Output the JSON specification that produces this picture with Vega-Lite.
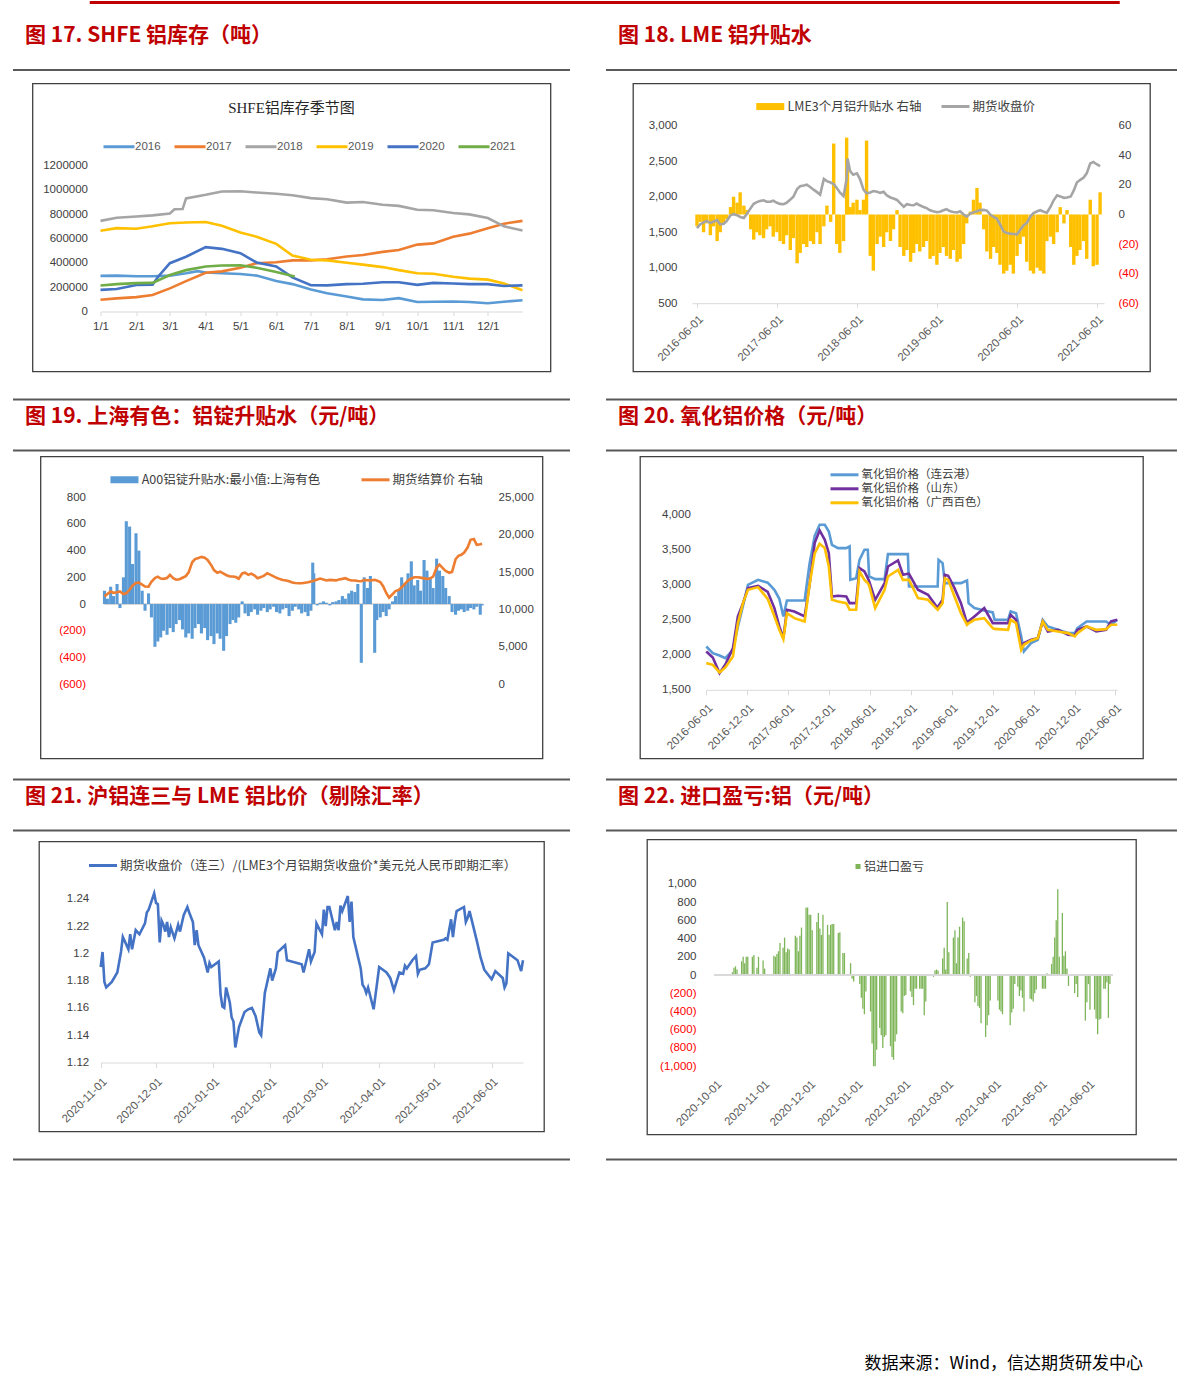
{
"$schema": "https://vega.github.io/schema/vega-lite/v6.json",
"background": "white",
"padding": {"left": 12, "top": 0.5, "right": 0, "bottom": 0},
"config": {
  "view": {"stroke": null},
  "font": "Noto Sans CJK SC",
  "axis": {"grid": false, "labelFont": "Liberation Sans", "labelFontSize": 11.5, "labelColor": "#595959", "domainColor": "#d9d9d9", "tickColor": "#d9d9d9", "domainWidth": 1},
  "legend": {"labelFont": "Noto Sans CJK SC", "labelFontSize": 12.5, "labelColor": "#404040", "padding": 0, "labelLimit": 500}
},
"datasets": {
"shfe": [
{"year":"2016","date":"2016-01-01","stock":293000},{"year":"2016","date":"2016-01-15","stock":295000},{"year":"2016","date":"2016-02-01","stock":290000},{"year":"2016","date":"2016-02-15","stock":290000},{"year":"2016","date":"2016-03-01","stock":295000},{"year":"2016","date":"2016-03-15","stock":315000},{"year":"2016","date":"2016-03-25","stock":332000},{"year":"2016","date":"2016-04-01","stock":320000},{"year":"2016","date":"2016-04-15","stock":315000},{"year":"2016","date":"2016-05-01","stock":308000},{"year":"2016","date":"2016-05-15","stock":295000},{"year":"2016","date":"2016-06-01","stock":250000},{"year":"2016","date":"2016-06-15","stock":225000},{"year":"2016","date":"2016-07-01","stock":180000},{"year":"2016","date":"2016-07-15","stock":150000},{"year":"2016","date":"2016-08-01","stock":123000},{"year":"2016","date":"2016-08-15","stock":100000},{"year":"2016","date":"2016-09-01","stock":95000},{"year":"2016","date":"2016-09-15","stock":110000},{"year":"2016","date":"2016-10-01","stock":78000},{"year":"2016","date":"2016-10-15","stock":80000},{"year":"2016","date":"2016-11-01","stock":82000},{"year":"2016","date":"2016-11-15","stock":78000},{"year":"2016","date":"2016-12-01","stock":68000},{"year":"2016","date":"2016-12-15","stock":80000},{"year":"2016","date":"2016-12-31","stock":93000},
{"year":"2017","date":"2017-01-01","stock":96000},{"year":"2017","date":"2017-01-15","stock":108000},{"year":"2017","date":"2017-02-01","stock":118000},{"year":"2017","date":"2017-02-15","stock":135000},{"year":"2017","date":"2017-03-01","stock":190000},{"year":"2017","date":"2017-03-15","stock":250000},{"year":"2017","date":"2017-04-01","stock":318000},{"year":"2017","date":"2017-04-15","stock":330000},{"year":"2017","date":"2017-05-01","stock":360000},{"year":"2017","date":"2017-05-15","stock":397000},{"year":"2017","date":"2017-06-01","stock":405000},{"year":"2017","date":"2017-06-15","stock":420000},{"year":"2017","date":"2017-07-01","stock":420000},{"year":"2017","date":"2017-07-15","stock":430000},{"year":"2017","date":"2017-08-01","stock":452000},{"year":"2017","date":"2017-08-15","stock":465000},{"year":"2017","date":"2017-09-01","stock":490000},{"year":"2017","date":"2017-09-15","stock":505000},{"year":"2017","date":"2017-10-01","stock":550000},{"year":"2017","date":"2017-10-15","stock":560000},{"year":"2017","date":"2017-11-01","stock":615000},{"year":"2017","date":"2017-11-15","stock":640000},{"year":"2017","date":"2017-12-01","stock":685000},{"year":"2017","date":"2017-12-15","stock":722000},{"year":"2017","date":"2017-12-31","stock":745000},
{"year":"2018","date":"2018-01-01","stock":745000},{"year":"2018","date":"2018-01-15","stock":770000},{"year":"2018","date":"2018-02-01","stock":781000},{"year":"2018","date":"2018-02-15","stock":790000},{"year":"2018","date":"2018-03-01","stock":805000},{"year":"2018","date":"2018-03-05","stock":840000},{"year":"2018","date":"2018-03-12","stock":842000},{"year":"2018","date":"2018-03-15","stock":930000},{"year":"2018","date":"2018-04-01","stock":959000},{"year":"2018","date":"2018-04-15","stock":986000},{"year":"2018","date":"2018-05-01","stock":988000},{"year":"2018","date":"2018-05-15","stock":978000},{"year":"2018","date":"2018-06-01","stock":968000},{"year":"2018","date":"2018-06-15","stock":955000},{"year":"2018","date":"2018-07-01","stock":932000},{"year":"2018","date":"2018-07-15","stock":922000},{"year":"2018","date":"2018-08-01","stock":895000},{"year":"2018","date":"2018-08-15","stock":900000},{"year":"2018","date":"2018-09-01","stock":878000},{"year":"2018","date":"2018-09-15","stock":868000},{"year":"2018","date":"2018-10-01","stock":836000},{"year":"2018","date":"2018-10-15","stock":832000},{"year":"2018","date":"2018-11-01","stock":810000},{"year":"2018","date":"2018-11-15","stock":798000},{"year":"2018","date":"2018-12-01","stock":768000},{"year":"2018","date":"2018-12-15","stock":700000},{"year":"2018","date":"2018-12-31","stock":665000},
{"year":"2019","date":"2019-01-01","stock":663000},{"year":"2019","date":"2019-01-15","stock":685000},{"year":"2019","date":"2019-02-01","stock":680000},{"year":"2019","date":"2019-02-15","stock":700000},{"year":"2019","date":"2019-03-01","stock":726000},{"year":"2019","date":"2019-03-15","stock":732000},{"year":"2019","date":"2019-04-01","stock":735000},{"year":"2019","date":"2019-04-15","stock":705000},{"year":"2019","date":"2019-05-01","stock":650000},{"year":"2019","date":"2019-05-15","stock":615000},{"year":"2019","date":"2019-06-01","stock":556000},{"year":"2019","date":"2019-06-15","stock":460000},{"year":"2019","date":"2019-07-01","stock":425000},{"year":"2019","date":"2019-07-15","stock":420000},{"year":"2019","date":"2019-08-01","stock":400000},{"year":"2019","date":"2019-08-15","stock":385000},{"year":"2019","date":"2019-09-01","stock":365000},{"year":"2019","date":"2019-09-15","stock":340000},{"year":"2019","date":"2019-10-01","stock":315000},{"year":"2019","date":"2019-10-15","stock":310000},{"year":"2019","date":"2019-11-01","stock":285000},{"year":"2019","date":"2019-11-15","stock":270000},{"year":"2019","date":"2019-12-01","stock":262000},{"year":"2019","date":"2019-12-15","stock":230000},{"year":"2019","date":"2019-12-31","stock":175000},
{"year":"2020","date":"2020-01-01","stock":178000},{"year":"2020","date":"2020-01-15","stock":185000},{"year":"2020","date":"2020-02-01","stock":218000},{"year":"2020","date":"2020-02-15","stock":220000},{"year":"2020","date":"2020-02-20","stock":288000},{"year":"2020","date":"2020-03-01","stock":397000},{"year":"2020","date":"2020-03-15","stock":450000},{"year":"2020","date":"2020-04-01","stock":529000},{"year":"2020","date":"2020-04-15","stock":515000},{"year":"2020","date":"2020-05-01","stock":479000},{"year":"2020","date":"2020-05-15","stock":403000},{"year":"2020","date":"2020-06-01","stock":370000},{"year":"2020","date":"2020-06-15","stock":280000},{"year":"2020","date":"2020-07-01","stock":216000},{"year":"2020","date":"2020-07-15","stock":215000},{"year":"2020","date":"2020-08-01","stock":225000},{"year":"2020","date":"2020-08-15","stock":228000},{"year":"2020","date":"2020-09-01","stock":240000},{"year":"2020","date":"2020-09-15","stock":240000},{"year":"2020","date":"2020-10-01","stock":219000},{"year":"2020","date":"2020-10-15","stock":235000},{"year":"2020","date":"2020-11-01","stock":230000},{"year":"2020","date":"2020-11-15","stock":225000},{"year":"2020","date":"2020-12-01","stock":225000},{"year":"2020","date":"2020-12-15","stock":210000},{"year":"2020","date":"2020-12-31","stock":215000},
{"year":"2021","date":"2021-01-01","stock":214000},{"year":"2021","date":"2021-01-15","stock":225000},{"year":"2021","date":"2021-02-01","stock":233000},{"year":"2021","date":"2021-02-15","stock":235000},{"year":"2021","date":"2021-03-01","stock":300000},{"year":"2021","date":"2021-03-15","stock":340000},{"year":"2021","date":"2021-04-01","stock":370000},{"year":"2021","date":"2021-04-15","stock":378000},{"year":"2021","date":"2021-05-01","stock":380000},{"year":"2021","date":"2021-05-15","stock":360000},{"year":"2021","date":"2021-06-01","stock":325000},{"year":"2021","date":"2021-06-17","stock":288000}
],
"lme": [
{"date":"2016-06-01","price":1557,"spread":-8},{"date":"2016-06-15","price":1610,"spread":-5},{"date":"2016-07-01","price":1640,"spread":-12},{"date":"2016-07-15","price":1660,"spread":-6},{"date":"2016-08-01","price":1630,"spread":-14},{"date":"2016-08-15","price":1650,"spread":-8},{"date":"2016-09-01","price":1670,"spread":-18},{"date":"2016-09-15","price":1610,"spread":-12},{"date":"2016-10-01","price":1620,"spread":-6},{"date":"2016-10-15","price":1660,"spread":-3},{"date":"2016-11-01","price":1740,"spread":5},{"date":"2016-11-15","price":1755,"spread":12},{"date":"2016-12-01","price":1740,"spread":8},{"date":"2016-12-15","price":1715,"spread":15},
{"date":"2017-01-01","price":1700,"spread":6},{"date":"2017-01-15","price":1760,"spread":3},{"date":"2017-02-01","price":1840,"spread":-10},{"date":"2017-02-15","price":1900,"spread":-17},{"date":"2017-03-01","price":1925,"spread":-12},{"date":"2017-03-15","price":1940,"spread":-14},{"date":"2017-04-01","price":1950,"spread":-16},{"date":"2017-04-15","price":1930,"spread":-10},{"date":"2017-05-01","price":1930,"spread":-8},{"date":"2017-05-15","price":1945,"spread":-15},{"date":"2017-06-01","price":1915,"spread":-12},{"date":"2017-06-15","price":1900,"spread":-18},{"date":"2017-07-01","price":1895,"spread":-20},{"date":"2017-07-15","price":1915,"spread":-14},{"date":"2017-08-01","price":1960,"spread":-24},{"date":"2017-08-15","price":2000,"spread":-16},{"date":"2017-09-01","price":2110,"spread":-33},{"date":"2017-09-15","price":2150,"spread":-26},{"date":"2017-10-01","price":2160,"spread":-20},{"date":"2017-10-15","price":2170,"spread":-22},{"date":"2017-11-01","price":2135,"spread":-18},{"date":"2017-11-15","price":2100,"spread":-20},{"date":"2017-12-01","price":2065,"spread":-12},{"date":"2017-12-15","price":2030,"spread":-20},
{"date":"2018-01-01","price":2250,"spread":-8},{"date":"2018-01-15","price":2220,"spread":6},{"date":"2018-02-01","price":2200,"spread":-5},{"date":"2018-02-15","price":2180,"spread":48},{"date":"2018-03-01","price":2125,"spread":-20},{"date":"2018-03-15","price":2060,"spread":-26},{"date":"2018-04-01","price":2010,"spread":-18},{"date":"2018-04-15","price":2250,"spread":52},{"date":"2018-04-19","price":2540,"spread":30},{"date":"2018-05-01","price":2360,"spread":5},{"date":"2018-05-15","price":2310,"spread":8},{"date":"2018-06-01","price":2330,"spread":10},{"date":"2018-06-15","price":2250,"spread":3},{"date":"2018-07-01","price":2100,"spread":10},{"date":"2018-07-15","price":2050,"spread":50},{"date":"2018-08-01","price":2060,"spread":-28},{"date":"2018-08-15","price":2080,"spread":-38},{"date":"2018-09-01","price":2070,"spread":-20},{"date":"2018-09-15","price":2055,"spread":-15},{"date":"2018-10-01","price":2070,"spread":-22},{"date":"2018-10-15","price":2020,"spread":-12},{"date":"2018-11-01","price":1990,"spread":-18},{"date":"2018-11-15","price":1975,"spread":-10},{"date":"2018-12-01","price":1955,"spread":3},{"date":"2018-12-15","price":1910,"spread":-22},
{"date":"2019-01-01","price":1860,"spread":-28},{"date":"2019-01-15","price":1895,"spread":-24},{"date":"2019-02-01","price":1885,"spread":-32},{"date":"2019-02-15","price":1880,"spread":-26},{"date":"2019-03-01","price":1905,"spread":-20},{"date":"2019-03-15","price":1880,"spread":-25},{"date":"2019-04-01","price":1855,"spread":-22},{"date":"2019-04-15","price":1840,"spread":-18},{"date":"2019-05-01","price":1810,"spread":-30},{"date":"2019-05-15","price":1795,"spread":-28},{"date":"2019-06-01","price":1783,"spread":-34},{"date":"2019-06-15","price":1790,"spread":-26},{"date":"2019-07-01","price":1810,"spread":-22},{"date":"2019-07-15","price":1825,"spread":-28},{"date":"2019-08-01","price":1795,"spread":-30},{"date":"2019-08-15","price":1785,"spread":-24},{"date":"2019-09-01","price":1780,"spread":-32},{"date":"2019-09-15","price":1795,"spread":-30},{"date":"2019-10-01","price":1750,"spread":-20},{"date":"2019-10-15","price":1720,"spread":-6},{"date":"2019-11-01","price":1765,"spread":2},{"date":"2019-11-15","price":1780,"spread":10},{"date":"2019-12-01","price":1795,"spread":18},{"date":"2019-12-15","price":1812,"spread":8},
{"date":"2020-01-01","price":1815,"spread":-10},{"date":"2020-01-15","price":1805,"spread":-25},{"date":"2020-02-01","price":1745,"spread":-30},{"date":"2020-02-15","price":1715,"spread":-22},{"date":"2020-03-01","price":1690,"spread":-26},{"date":"2020-03-15","price":1610,"spread":-34},{"date":"2020-04-01","price":1510,"spread":-40},{"date":"2020-04-15","price":1490,"spread":-38},{"date":"2020-05-01","price":1480,"spread":-34},{"date":"2020-05-15","price":1475,"spread":-40},{"date":"2020-06-01","price":1470,"spread":-28},{"date":"2020-06-15","price":1530,"spread":-20},{"date":"2020-07-01","price":1600,"spread":-15},{"date":"2020-07-15","price":1630,"spread":-32},{"date":"2020-08-01","price":1720,"spread":-38},{"date":"2020-08-15","price":1770,"spread":-40},{"date":"2020-09-01","price":1795,"spread":-36},{"date":"2020-09-15","price":1810,"spread":-38},{"date":"2020-10-01","price":1790,"spread":-40},{"date":"2020-10-15","price":1775,"spread":-18},{"date":"2020-11-01","price":1860,"spread":-15},{"date":"2020-11-15","price":1950,"spread":-20},{"date":"2020-12-01","price":2020,"spread":-12},{"date":"2020-12-15","price":2005,"spread":5},
{"date":"2021-01-01","price":1985,"spread":-6},{"date":"2021-01-15","price":1990,"spread":3},{"date":"2021-02-01","price":2004,"spread":-22},{"date":"2021-02-15","price":2090,"spread":-34},{"date":"2021-03-01","price":2200,"spread":-28},{"date":"2021-03-15","price":2235,"spread":-24},{"date":"2021-04-01","price":2270,"spread":-18},{"date":"2021-04-15","price":2330,"spread":-30},{"date":"2021-05-01","price":2470,"spread":10},{"date":"2021-05-15","price":2490,"spread":-35},{"date":"2021-06-01","price":2455,"spread":-34},{"date":"2021-06-15","price":2430,"spread":15}
],
"a00": [
{"date":"2016-06-01","premium":100,"settle":11720},{"date":"2016-06-15","premium":40,"settle":12050},{"date":"2016-07-01","premium":130,"settle":12380},{"date":"2016-07-15","premium":60,"settle":12220},{"date":"2016-08-01","premium":150,"settle":12280},{"date":"2016-08-15","premium":-30,"settle":12390},{"date":"2016-09-01","premium":200,"settle":12050},{"date":"2016-09-15","premium":620,"settle":12150},{"date":"2016-10-01","premium":580,"settle":12620},{"date":"2016-10-15","premium":300,"settle":13180},{"date":"2016-11-01","premium":530,"settle":13530},{"date":"2016-11-15","premium":400,"settle":13590},{"date":"2016-12-01","premium":100,"settle":13320},{"date":"2016-12-15","premium":-50,"settle":13050},
{"date":"2017-01-01","premium":80,"settle":13030},{"date":"2017-01-15","premium":-100,"settle":13700},{"date":"2017-02-01","premium":-320,"settle":14180},{"date":"2017-02-15","premium":-280,"settle":14380},{"date":"2017-03-01","premium":-250,"settle":14120},{"date":"2017-03-15","premium":-200,"settle":14080},{"date":"2017-04-01","premium":-230,"settle":14200},{"date":"2017-04-15","premium":-180,"settle":14617},{"date":"2017-05-01","premium":-210,"settle":14170},{"date":"2017-05-15","premium":-150,"settle":13970},{"date":"2017-06-01","premium":-120,"settle":14030},{"date":"2017-06-15","premium":-190,"settle":14230},{"date":"2017-07-01","premium":-250,"settle":14450},{"date":"2017-07-15","premium":-220,"settle":14950},{"date":"2017-08-01","premium":-260,"settle":16300},{"date":"2017-08-15","premium":-180,"settle":16720},{"date":"2017-09-01","premium":-150,"settle":16880},{"date":"2017-09-15","premium":-220,"settle":17020},{"date":"2017-10-01","premium":-180,"settle":16900},{"date":"2017-10-15","premium":-270,"settle":16600},{"date":"2017-11-01","premium":-240,"settle":15950},{"date":"2017-11-15","premium":-300,"settle":15250},{"date":"2017-12-01","premium":-220,"settle":14900},{"date":"2017-12-15","premium":-260,"settle":15040},
{"date":"2018-01-01","premium":-350,"settle":14780},{"date":"2018-01-15","premium":-240,"settle":14570},{"date":"2018-02-01","premium":-150,"settle":14400},{"date":"2018-02-15","premium":-120,"settle":14394},{"date":"2018-03-01","premium":-140,"settle":14330},{"date":"2018-03-15","premium":-100,"settle":14100},{"date":"2018-04-01","premium":20,"settle":14800},{"date":"2018-04-15","premium":-70,"settle":14900},{"date":"2018-05-01","premium":-90,"settle":14620},{"date":"2018-05-15","premium":-60,"settle":14780},{"date":"2018-06-01","premium":-40,"settle":14520},{"date":"2018-06-15","premium":-80,"settle":14171},{"date":"2018-07-01","premium":-50,"settle":14320},{"date":"2018-07-15","premium":-30,"settle":14490},{"date":"2018-08-01","premium":-60,"settle":14830},{"date":"2018-08-15","premium":-40,"settle":14650},{"date":"2018-09-01","premium":-20,"settle":14420},{"date":"2018-09-15","premium":-60,"settle":14220},{"date":"2018-10-01","premium":-70,"settle":14050},{"date":"2018-10-15","premium":-40,"settle":13940},{"date":"2018-11-01","premium":-30,"settle":13870},{"date":"2018-11-15","premium":-90,"settle":13750},{"date":"2018-12-01","premium":-50,"settle":13585},{"date":"2018-12-15","premium":-20,"settle":13530},
{"date":"2019-01-01","premium":-40,"settle":13503},{"date":"2019-01-15","premium":-70,"settle":13503},{"date":"2019-02-01","premium":-60,"settle":13570},{"date":"2019-02-15","premium":-90,"settle":13630},{"date":"2019-03-01","premium":-50,"settle":13720},{"date":"2019-03-10","premium":310,"settle":13800},{"date":"2019-03-15","premium":230,"settle":13840},{"date":"2019-04-01","premium":-10,"settle":14000},{"date":"2019-04-15","premium":10,"settle":14130},{"date":"2019-05-01","premium":20,"settle":14000},{"date":"2019-05-15","premium":10,"settle":13870},{"date":"2019-06-01","premium":-10,"settle":13940},{"date":"2019-06-15","premium":15,"settle":13910},{"date":"2019-07-01","premium":20,"settle":13880},{"date":"2019-07-15","premium":30,"settle":13990},{"date":"2019-08-01","premium":60,"settle":14080},{"date":"2019-08-15","premium":40,"settle":14171},{"date":"2019-09-01","premium":80,"settle":13960},{"date":"2019-09-15","premium":100,"settle":13860},{"date":"2019-10-01","premium":90,"settle":13860},{"date":"2019-10-15","premium":150,"settle":13790},{"date":"2019-11-01","premium":-440,"settle":13760},{"date":"2019-11-15","premium":200,"settle":13910},{"date":"2019-12-01","premium":120,"settle":13900},{"date":"2019-12-15","premium":210,"settle":13870},
{"date":"2020-01-05","premium":-365,"settle":13949},{"date":"2020-01-15","premium":-120,"settle":13860},{"date":"2020-02-01","premium":-100,"settle":13660},{"date":"2020-02-15","premium":-60,"settle":13100},{"date":"2020-03-01","premium":-90,"settle":12200},{"date":"2020-03-15","premium":-40,"settle":11560},{"date":"2020-04-01","premium":20,"settle":12050},{"date":"2020-04-15","premium":60,"settle":12450},{"date":"2020-05-01","premium":110,"settle":12600},{"date":"2020-05-15","premium":200,"settle":12950},{"date":"2020-06-01","premium":160,"settle":13450},{"date":"2020-06-15","premium":230,"settle":13850},{"date":"2020-07-01","premium":320,"settle":14140},{"date":"2020-07-15","premium":140,"settle":14305},{"date":"2020-08-01","premium":180,"settle":14305},{"date":"2020-08-15","premium":100,"settle":14250},{"date":"2020-09-01","premium":330,"settle":14150},{"date":"2020-09-15","premium":250,"settle":14070},{"date":"2020-10-01","premium":200,"settle":14150},{"date":"2020-10-15","premium":120,"settle":14380},{"date":"2020-11-01","premium":340,"settle":15600},{"date":"2020-11-15","premium":250,"settle":16000},{"date":"2020-12-01","premium":210,"settle":15530},{"date":"2020-12-15","premium":120,"settle":15130},
{"date":"2021-01-01","premium":60,"settle":14900},{"date":"2021-01-15","premium":-60,"settle":15020},{"date":"2021-02-01","premium":-80,"settle":16700},{"date":"2021-02-15","premium":-50,"settle":17160},{"date":"2021-03-01","premium":-40,"settle":17300},{"date":"2021-03-15","premium":-60,"settle":17600},{"date":"2021-04-01","premium":-50,"settle":18300},{"date":"2021-04-15","premium":-30,"settle":19300},{"date":"2021-05-01","premium":-40,"settle":19400},{"date":"2021-05-15","premium":-20,"settle":18627},{"date":"2021-06-01","premium":-80,"settle":18700},{"date":"2021-06-10","premium":-10,"settle":18760}
],
"alumina": [
{"date":"2016-06-01","lyg":2119,"sd":2048,"gx":1881},{"date":"2016-06-30","lyg":2024,"sd":1960,"gx":1857},{"date":"2016-07-30","lyg":1990,"sd":1738,"gx":1748},{"date":"2016-08-25","lyg":1952,"sd":1860,"gx":1820},{"date":"2016-09-28","lyg":2070,"sd":2095,"gx":1976},{"date":"2016-10-20","lyg":2400,"sd":2548,"gx":2452},{"date":"2016-11-12","lyg":2700,"sd":2738,"gx":2738},{"date":"2016-12-04","lyg":3000,"sd":2952,"gx":2929},
{"date":"2017-01-18","lyg":3071,"sd":2986,"gx":2967},{"date":"2017-03-02","lyg":3030,"sd":2900,"gx":2800},{"date":"2017-04-01","lyg":2929,"sd":2667,"gx":2550},{"date":"2017-04-23","lyg":2800,"sd":2405,"gx":2357},{"date":"2017-05-11","lyg":2548,"sd":2238,"gx":2224},{"date":"2017-05-27","lyg":2776,"sd":2643,"gx":2595},{"date":"2017-06-29","lyg":2776,"sd":2619,"gx":2524},{"date":"2017-08-14","lyg":2776,"sd":2548,"gx":2476},{"date":"2017-09-05","lyg":3300,"sd":3000,"gx":3000},{"date":"2017-09-28","lyg":3700,"sd":3600,"gx":3450},{"date":"2017-10-20","lyg":3857,"sd":3776,"gx":3586},{"date":"2017-11-12","lyg":3857,"sd":3643,"gx":3524},{"date":"2017-11-30","lyg":3762,"sd":3452,"gx":3262},{"date":"2017-12-14","lyg":3571,"sd":2833,"gx":2786},
{"date":"2018-01-10","lyg":3524,"sd":2843,"gx":2762},{"date":"2018-02-16","lyg":3524,"sd":2833,"gx":2738},{"date":"2018-03-03","lyg":3548,"sd":2738,"gx":2643},{"date":"2018-03-06","lyg":3071,"sd":2738,"gx":2643},{"date":"2018-04-01","lyg":3095,"sd":2738,"gx":2643},{"date":"2018-04-16","lyg":3357,"sd":3238,"gx":3190},{"date":"2018-05-08","lyg":3500,"sd":3190,"gx":3071},{"date":"2018-05-23","lyg":3500,"sd":3095,"gx":3024},{"date":"2018-05-29","lyg":3119,"sd":3050,"gx":2990},{"date":"2018-06-25","lyg":3081,"sd":2786,"gx":2667},{"date":"2018-08-06","lyg":3081,"sd":3024,"gx":2929},{"date":"2018-08-21","lyg":3438,"sd":3262,"gx":3119},{"date":"2018-10-05","lyg":3438,"sd":3348,"gx":3214},{"date":"2018-10-27","lyg":3438,"sd":3143,"gx":3071},{"date":"2018-11-18","lyg":3438,"sd":3157,"gx":3071},{"date":"2018-11-23","lyg":2976,"sd":3157,"gx":3071},
{"date":"2019-01-02","lyg":2976,"sd":2929,"gx":2810},{"date":"2019-02-16","lyg":2976,"sd":2857,"gx":2786},{"date":"2019-03-31","lyg":2976,"sd":2667,"gx":2643},{"date":"2019-04-04","lyg":3357,"sd":2700,"gx":2660},{"date":"2019-04-22","lyg":3310,"sd":2786,"gx":2738},{"date":"2019-05-02","lyg":3024,"sd":3143,"gx":3095},{"date":"2019-05-17","lyg":3024,"sd":3129,"gx":3071},{"date":"2019-06-14","lyg":3024,"sd":2952,"gx":2833},{"date":"2019-07-13","lyg":3024,"sd":2738,"gx":2595},{"date":"2019-08-09","lyg":3062,"sd":2452,"gx":2429},{"date":"2019-08-16","lyg":2738,"sd":2480,"gx":2450},{"date":"2019-09-11","lyg":2667,"sd":2548,"gx":2500},{"date":"2019-10-25","lyg":2633,"sd":2667,"gx":2524},{"date":"2019-12-02","lyg":2605,"sd":2452,"gx":2381},{"date":"2019-12-10","lyg":2500,"sd":2452,"gx":2370},
{"date":"2020-02-08","lyg":2500,"sd":2452,"gx":2357},{"date":"2020-02-20","lyg":2619,"sd":2571,"gx":2500},{"date":"2020-03-15","lyg":2595,"sd":2500,"gx":2452},{"date":"2020-04-07","lyg":2262,"sd":2119,"gx":2071},{"date":"2020-04-19","lyg":2048,"sd":2167,"gx":2143},{"date":"2020-05-21","lyg":2167,"sd":2214,"gx":2205},{"date":"2020-06-20","lyg":2214,"sd":2238,"gx":2238},{"date":"2020-07-12","lyg":2500,"sd":2476,"gx":2476},{"date":"2020-08-04","lyg":2405,"sd":2333,"gx":2357},{"date":"2020-09-18","lyg":2357,"sd":2357,"gx":2333},{"date":"2020-11-02","lyg":2310,"sd":2286,"gx":2310},{"date":"2020-12-02","lyg":2310,"sd":2276,"gx":2262},{"date":"2020-12-14","lyg":2381,"sd":2357,"gx":2310},
{"date":"2021-01-24","lyg":2476,"sd":2405,"gx":2405},{"date":"2021-03-08","lyg":2476,"sd":2333,"gx":2357},{"date":"2021-04-21","lyg":2476,"sd":2357,"gx":2367},{"date":"2021-05-13","lyg":2429,"sd":2476,"gx":2429},{"date":"2021-06-10","lyg":2500,"sd":2500,"gx":2429}
],
"ratio": [
{"date":"2020-11-01","ratio":1.190},{"date":"2020-11-02","ratio":1.201},{"date":"2020-11-03","ratio":1.179},{"date":"2020-11-04","ratio":1.175},{"date":"2020-11-07","ratio":1.179},{"date":"2020-11-10","ratio":1.186},{"date":"2020-11-12","ratio":1.201},{"date":"2020-11-13","ratio":1.212},{"date":"2020-11-14","ratio":1.209},{"date":"2020-11-16","ratio":1.203},{"date":"2020-11-17","ratio":1.214},{"date":"2020-11-18","ratio":1.203},{"date":"2020-11-20","ratio":1.217},{"date":"2020-11-22","ratio":1.214},{"date":"2020-11-25","ratio":1.222},{"date":"2020-11-26","ratio":1.230},{"date":"2020-11-27","ratio":1.232},{"date":"2020-11-30","ratio":1.244},
{"date":"2020-12-01","ratio":1.237},{"date":"2020-12-02","ratio":1.236},{"date":"2020-12-03","ratio":1.208},{"date":"2020-12-04","ratio":1.224},{"date":"2020-12-05","ratio":1.221},{"date":"2020-12-06","ratio":1.216},{"date":"2020-12-07","ratio":1.223},{"date":"2020-12-08","ratio":1.212},{"date":"2020-12-09","ratio":1.219},{"date":"2020-12-11","ratio":1.211},{"date":"2020-12-13","ratio":1.221},{"date":"2020-12-14","ratio":1.216},{"date":"2020-12-16","ratio":1.228},{"date":"2020-12-18","ratio":1.234},{"date":"2020-12-19","ratio":1.230},{"date":"2020-12-21","ratio":1.223},{"date":"2020-12-22","ratio":1.206},{"date":"2020-12-23","ratio":1.217},{"date":"2020-12-24","ratio":1.206},{"date":"2020-12-27","ratio":1.197},{"date":"2020-12-29","ratio":1.186},{"date":"2020-12-30","ratio":1.193},{"date":"2020-12-31","ratio":1.190},
{"date":"2021-01-04","ratio":1.194},{"date":"2021-01-05","ratio":1.170},{"date":"2021-01-06","ratio":1.161},{"date":"2021-01-07","ratio":1.160},{"date":"2021-01-08","ratio":1.175},{"date":"2021-01-10","ratio":1.164},{"date":"2021-01-11","ratio":1.153},{"date":"2021-01-12","ratio":1.150},{"date":"2021-01-13","ratio":1.131},{"date":"2021-01-15","ratio":1.146},{"date":"2021-01-18","ratio":1.157},{"date":"2021-01-20","ratio":1.159},{"date":"2021-01-22","ratio":1.160},{"date":"2021-01-24","ratio":1.154},{"date":"2021-01-26","ratio":1.142},{"date":"2021-01-27","ratio":1.140},{"date":"2021-01-29","ratio":1.171},
{"date":"2021-02-01","ratio":1.189},{"date":"2021-02-02","ratio":1.180},{"date":"2021-02-04","ratio":1.189},{"date":"2021-02-05","ratio":1.201},{"date":"2021-02-09","ratio":1.206},{"date":"2021-02-10","ratio":1.195},{"date":"2021-02-18","ratio":1.192},{"date":"2021-02-19","ratio":1.186},{"date":"2021-02-22","ratio":1.203},{"date":"2021-02-23","ratio":1.194},{"date":"2021-02-25","ratio":1.201},{"date":"2021-02-26","ratio":1.222},
{"date":"2021-03-01","ratio":1.214},{"date":"2021-03-02","ratio":1.232},{"date":"2021-03-03","ratio":1.220},{"date":"2021-03-04","ratio":1.234},{"date":"2021-03-05","ratio":1.234},{"date":"2021-03-08","ratio":1.217},{"date":"2021-03-09","ratio":1.223},{"date":"2021-03-10","ratio":1.217},{"date":"2021-03-11","ratio":1.235},{"date":"2021-03-12","ratio":1.231},{"date":"2021-03-15","ratio":1.242},{"date":"2021-03-16","ratio":1.223},{"date":"2021-03-17","ratio":1.238},{"date":"2021-03-18","ratio":1.212},{"date":"2021-03-22","ratio":1.189},{"date":"2021-03-23","ratio":1.177},{"date":"2021-03-24","ratio":1.175},{"date":"2021-03-25","ratio":1.171},{"date":"2021-03-26","ratio":1.175},{"date":"2021-03-29","ratio":1.159},
{"date":"2021-04-01","ratio":1.190},{"date":"2021-04-05","ratio":1.186},{"date":"2021-04-07","ratio":1.182},{"date":"2021-04-09","ratio":1.173},{"date":"2021-04-12","ratio":1.186},{"date":"2021-04-14","ratio":1.185},{"date":"2021-04-15","ratio":1.191},{"date":"2021-04-16","ratio":1.189},{"date":"2021-04-19","ratio":1.195},{"date":"2021-04-21","ratio":1.198},{"date":"2021-04-22","ratio":1.185},{"date":"2021-04-23","ratio":1.188},{"date":"2021-04-26","ratio":1.189},{"date":"2021-04-28","ratio":1.192},{"date":"2021-04-30","ratio":1.208},
{"date":"2021-05-06","ratio":1.210},{"date":"2021-05-07","ratio":1.211},{"date":"2021-05-08","ratio":1.210},{"date":"2021-05-10","ratio":1.225},{"date":"2021-05-11","ratio":1.212},{"date":"2021-05-12","ratio":1.223},{"date":"2021-05-13","ratio":1.231},{"date":"2021-05-17","ratio":1.234},{"date":"2021-05-18","ratio":1.223},{"date":"2021-05-19","ratio":1.226},{"date":"2021-05-20","ratio":1.231},{"date":"2021-05-24","ratio":1.209},{"date":"2021-05-26","ratio":1.197},{"date":"2021-05-28","ratio":1.188},
{"date":"2021-06-01","ratio":1.181},{"date":"2021-06-03","ratio":1.187},{"date":"2021-06-07","ratio":1.182},{"date":"2021-06-08","ratio":1.175},{"date":"2021-06-09","ratio":1.178},{"date":"2021-06-10","ratio":1.200},{"date":"2021-06-15","ratio":1.195},{"date":"2021-06-17","ratio":1.187},{"date":"2021-06-18","ratio":1.195}
],
"imp": [
{"date":"2020-10-12","pnl":30},{"date":"2020-10-13","pnl":80},{"date":"2020-10-14","pnl":95},{"date":"2020-10-15","pnl":60},{"date":"2020-10-18","pnl":150},{"date":"2020-10-19","pnl":200},{"date":"2020-10-20","pnl":130},{"date":"2020-10-21","pnl":200},{"date":"2020-10-22","pnl":200},{"date":"2020-10-25","pnl":200},{"date":"2020-10-26","pnl":220},{"date":"2020-10-28","pnl":80},{"date":"2020-10-29","pnl":200},
{"date":"2020-11-01","pnl":160},{"date":"2020-11-02","pnl":70},{"date":"2020-11-03","pnl":10},{"date":"2020-11-08","pnl":210},{"date":"2020-11-09","pnl":200},{"date":"2020-11-10","pnl":230},{"date":"2020-11-11","pnl":260},{"date":"2020-11-12","pnl":350},{"date":"2020-11-14","pnl":300},{"date":"2020-11-15","pnl":410},{"date":"2020-11-16","pnl":250},{"date":"2020-11-17","pnl":290},{"date":"2020-11-18","pnl":280},{"date":"2020-11-22","pnl":430},{"date":"2020-11-23","pnl":410},{"date":"2020-11-24","pnl":260},{"date":"2020-11-25","pnl":430},{"date":"2020-11-26","pnl":520},{"date":"2020-11-29","pnl":740},{"date":"2020-11-30","pnl":740},
{"date":"2020-12-01","pnl":660},{"date":"2020-12-02","pnl":660},{"date":"2020-12-03","pnl":490},{"date":"2020-12-06","pnl":580},{"date":"2020-12-07","pnl":680},{"date":"2020-12-08","pnl":510},{"date":"2020-12-09","pnl":440},{"date":"2020-12-10","pnl":660},{"date":"2020-12-13","pnl":550},{"date":"2020-12-14","pnl":440},{"date":"2020-12-15","pnl":550},{"date":"2020-12-16","pnl":560},{"date":"2020-12-17","pnl":560},{"date":"2020-12-20","pnl":460},{"date":"2020-12-21","pnl":470},{"date":"2020-12-23","pnl":240},{"date":"2020-12-24","pnl":240},{"date":"2020-12-28","pnl":130},{"date":"2020-12-29","pnl":-40},{"date":"2020-12-30","pnl":-70},
{"date":"2021-01-03","pnl":-100},{"date":"2021-01-04","pnl":-250},{"date":"2021-01-05","pnl":-370},{"date":"2021-01-06","pnl":-430},{"date":"2021-01-07","pnl":-180},{"date":"2021-01-10","pnl":-400},{"date":"2021-01-11","pnl":-750},{"date":"2021-01-12","pnl":-1000},{"date":"2021-01-13","pnl":-1000},{"date":"2021-01-14","pnl":-820},{"date":"2021-01-16","pnl":-580},{"date":"2021-01-17","pnl":-660},{"date":"2021-01-18","pnl":-800},{"date":"2021-01-19","pnl":-680},{"date":"2021-01-20","pnl":-660},{"date":"2021-01-23","pnl":-780},{"date":"2021-01-24","pnl":-900},{"date":"2021-01-25","pnl":-930},{"date":"2021-01-26","pnl":-730},{"date":"2021-01-27","pnl":-650},{"date":"2021-01-30","pnl":-400},{"date":"2021-01-31","pnl":-420},
{"date":"2021-02-01","pnl":-230},{"date":"2021-02-02","pnl":-220},{"date":"2021-02-05","pnl":-180},{"date":"2021-02-06","pnl":-240},{"date":"2021-02-07","pnl":-330},{"date":"2021-02-08","pnl":-150},{"date":"2021-02-09","pnl":-150},{"date":"2021-02-11","pnl":-150},{"date":"2021-02-12","pnl":-150},{"date":"2021-02-13","pnl":-150},{"date":"2021-02-14","pnl":-440},{"date":"2021-02-15","pnl":-290},{"date":"2021-02-19","pnl":-10},{"date":"2021-02-20","pnl":-20},{"date":"2021-02-21","pnl":50},{"date":"2021-02-22","pnl":60},{"date":"2021-02-23","pnl":50},{"date":"2021-02-26","pnl":180},{"date":"2021-02-27","pnl":300},{"date":"2021-02-28","pnl":60},
{"date":"2021-03-01","pnl":800},{"date":"2021-03-02","pnl":250},{"date":"2021-03-05","pnl":410},{"date":"2021-03-06","pnl":490},{"date":"2021-03-07","pnl":130},{"date":"2021-03-08","pnl":410},{"date":"2021-03-09","pnl":530},{"date":"2021-03-11","pnl":630},{"date":"2021-03-12","pnl":590},{"date":"2021-03-14","pnl":180},{"date":"2021-03-15","pnl":240},{"date":"2021-03-16","pnl":-20},{"date":"2021-03-19","pnl":-300},{"date":"2021-03-20","pnl":-230},{"date":"2021-03-21","pnl":-340},{"date":"2021-03-22","pnl":-360},{"date":"2021-03-23","pnl":-530},{"date":"2021-03-26","pnl":-680},{"date":"2021-03-27","pnl":-550},{"date":"2021-03-28","pnl":-440},{"date":"2021-03-29","pnl":-280},
{"date":"2021-04-03","pnl":-280},{"date":"2021-04-04","pnl":-380},{"date":"2021-04-05","pnl":-400},{"date":"2021-04-06","pnl":-430},{"date":"2021-04-11","pnl":-550},{"date":"2021-04-12","pnl":-410},{"date":"2021-04-13","pnl":-370},{"date":"2021-04-14","pnl":-100},{"date":"2021-04-16","pnl":-130},{"date":"2021-04-17","pnl":-230},{"date":"2021-04-18","pnl":-170},{"date":"2021-04-19","pnl":-250},{"date":"2021-04-20","pnl":-400},{"date":"2021-04-24","pnl":-260},{"date":"2021-04-25","pnl":-270},{"date":"2021-04-26","pnl":-290},{"date":"2021-04-27","pnl":-200},{"date":"2021-04-28","pnl":-160},
{"date":"2021-05-02","pnl":-150},{"date":"2021-05-03","pnl":-150},{"date":"2021-05-04","pnl":-150},{"date":"2021-05-05","pnl":20},{"date":"2021-05-08","pnl":120},{"date":"2021-05-09","pnl":200},{"date":"2021-05-10","pnl":410},{"date":"2021-05-11","pnl":600},{"date":"2021-05-12","pnl":940},{"date":"2021-05-13","pnl":200},{"date":"2021-05-15","pnl":680},{"date":"2021-05-16","pnl":210},{"date":"2021-05-17","pnl":260},{"date":"2021-05-18","pnl":70},{"date":"2021-05-19","pnl":-120},{"date":"2021-05-22","pnl":10},{"date":"2021-05-23","pnl":-200},{"date":"2021-05-24","pnl":-100},{"date":"2021-05-25","pnl":-240},{"date":"2021-05-30","pnl":-500},{"date":"2021-05-31","pnl":-300},
{"date":"2021-06-01","pnl":-100},{"date":"2021-06-02","pnl":-380},{"date":"2021-06-05","pnl":-380},{"date":"2021-06-06","pnl":-480},{"date":"2021-06-07","pnl":-650},{"date":"2021-06-08","pnl":-490},{"date":"2021-06-09","pnl":-480},{"date":"2021-06-11","pnl":-150},{"date":"2021-06-12","pnl":-150},{"date":"2021-06-13","pnl":-80},{"date":"2021-06-14","pnl":-470},{"date":"2021-06-15","pnl":-100}
]
},
"spacing": 0,
"center": true,
"resolve": {"scale": {"color": "independent", "fill": "independent", "stroke": "independent"}, "legend": {"color": "independent", "fill": "independent", "stroke": "independent"}},
"vconcat": [
{"width": 1050, "height": 1, "view": {"stroke": "#c00000", "strokeWidth": 3, "strokeDash": [0, 20, 1030, 10000]}, "data": {"values": []}, "mark": "text"},
{"hconcat": [
{"vconcat": [
  {"width": 557, "height": 63.5, "view": {"stroke": "#595959", "strokeWidth": 2, "strokeDash": [0, 620.5, 557, 63.5]},
   "data": {"values": [{"fig": "图 17. SHFE 铝库存（吨）"}]},
   "mark": {"type": "text", "align": "left", "baseline": "middle", "dx": 12, "dy": -34, "fontSize": 21, "fontWeight": "bold", "color": "#c00000"},
   "encoding": {"text": {"field": "fig", "type": "nominal"}, "x": {"datum": 0, "type": "quantitative", "scale": {"domain": [0, 1]}, "axis": null}, "y": {"datum": 0, "type": "quantitative", "scale": {"domain": [0, 1]}, "axis": null}}},
  {"width": 10, "height": 13, "data": {"values": []}, "mark": "text"},
  {"width": 518, "height": 288, "view": {"stroke": "#404040", "strokeWidth": 1.3},
   "title": {"text": "SHFE铝库存季节图", "font": "Liberation Serif, Noto Sans CJK SC", "fontSize": 15, "fontWeight": "normal", "color": "#262626", "anchor": "middle", "frame": "group", "offset": -32},
   "data": {"name": "shfe"},
   "mark": {"type": "line", "strokeWidth": 2.6},
   "encoding": {
     "x": {"field": "date", "timeUnit": "monthdate", "type": "temporal",
       "scale": {"domain": [{"year": 2012, "month": 1, "date": 1}, {"year": 2012, "month": 12, "date": 31}], "range": [68, 490]},
       "axis": {"orient": "bottom", "offset": -60, "format": "%-m/%-d", "tickCount": {"interval": "month", "step": 1}, "labelAngle": 0, "labelFlush": false, "labelOverlap": false, "tickSize": 4, "labelPadding": 5, "labelColor": "#404040", "title": null}},
     "y": {"field": "stock", "type": "quantitative",
       "scale": {"domain": [0, 1200000], "range": [228, 82], "nice": false},
       "axis": {"orient": "left", "offset": -68, "values": [0, 200000, 400000, 600000, 800000, 1000000, 1200000], "format": "d", "labelOverlap": false, "domain": false, "ticks": false, "tickSize": 0, "labelPadding": 13, "labelColor": "#404040", "title": null}},
     "color": {"field": "year", "type": "nominal",
       "scale": {"domain": ["2016", "2017", "2018", "2019", "2020", "2021"], "range": ["#5b9bd5", "#ed7d31", "#a5a5a5", "#ffc000", "#4472c4", "#70ad47"]},
       "legend": {"orient": "none", "legendX": 80, "legendY": 56.5, "direction": "horizontal", "title": null, "symbolType": "M-3.1,0H3.1", "symbolSize": 100, "symbolStrokeWidth": 3, "labelOffset": 9.5, "columnPadding": 7, "labelFont": "Liberation Sans", "labelFontSize": 11.5, "labelColor": "#595959"}}
   }},
  {"width": 10, "height": 28, "data": {"values": []}, "mark": "text"},
  {"width": 557, "height": 51, "view": {"stroke": "#595959", "strokeWidth": 2, "strokeDash": [557, 51]},
   "data": {"values": [{"fig": "图 19. 上海有色：铝锭升贴水（元/吨）"}]},
   "mark": {"type": "text", "align": "left", "baseline": "middle", "dx": 12, "dy": -34, "fontSize": 21, "fontWeight": "bold", "color": "#c00000"},
   "encoding": {"text": {"field": "fig", "type": "nominal"}, "x": {"datum": 0, "type": "quantitative", "scale": {"domain": [0, 1]}, "axis": null}, "y": {"datum": 0, "type": "quantitative", "scale": {"domain": [0, 1]}, "axis": null}}},
  {"width": 10, "height": 6, "data": {"values": []}, "mark": "text"},
  {"width": 502, "height": 302, "view": {"stroke": "#404040", "strokeWidth": 1.3},
   "data": {"name": "a00"},
   "layer": [
     {"mark": {"type": "rule", "color": "#d9d9d9", "strokeWidth": 1},
      "encoding": {
        "x": {"datum": {"year": 2016, "month": 6, "date": 1}, "type": "temporal", "scale": {"domain": [{"year": 2016, "month": 6, "date": 1}, {"year": 2021, "month": 6, "date": 10}], "range": [59, 446.6]}, "axis": null},
        "x2": {"datum": {"year": 2021, "month": 6, "date": 10}},
        "y": {"datum": 0, "type": "quantitative", "scale": {"domain": [-600, 800], "range": [227.7, 40.7], "nice": false, "zero": false}, "axis": null}}},
     {"mark": {"type": "bar", "size": 3.1},
      "encoding": {
        "x": {"field": "date", "type": "temporal", "scale": {"domain": [{"year": 2016, "month": 6, "date": 1}, {"year": 2021, "month": 6, "date": 10}], "range": [59, 446.6]},
          "axis": {"orient": "bottom", "offset": -74.3, "values": [{"year": 2016, "month": 6, "date": 1}, {"year": 2017, "month": 6, "date": 1}, {"year": 2018, "month": 6, "date": 1}, {"year": 2019, "month": 6, "date": 1}, {"year": 2020, "month": 6, "date": 1}, {"year": 2021, "month": 6, "date": 1}], "format": "%Y-%m-%d", "labelAngle": -45, "labelFlush": false, "labelOverlap": false, "domain": false, "ticks": false, "tickSize": 0, "labelPadding": 11, "title": null}},
        "y": {"field": "premium", "type": "quantitative", "scale": {"domain": [-600, 800], "range": [227.7, 40.7], "nice": false, "zero": false},
          "axis": {"orient": "left", "offset": -59, "values": [-600, -400, -200, 0, 200, 400, 600, 800], "labelExpr": "datum.value < 0 ? '(' + format(-datum.value, ',') + ')' : format(datum.value, ',')", "labelColor": {"condition": {"test": "datum.value < 0", "value": "#ff0000"}, "value": "#404040"}, "labelOverlap": false, "domain": false, "ticks": false, "tickSize": 0, "labelPadding": 14, "title": null}},
        "fill": {"datum": "A00铝锭升贴水:最小值:上海有色", "type": "nominal", "scale": {"range": ["#5b9bd5"]},
          "legend": {"orient": "none", "legendX": 77.7, "legendY": 17, "title": null, "symbolType": "M-2.8,-0.7H2.8V0.7H-2.8Z", "symbolSize": 100, "symbolStrokeWidth": 0, "labelOffset": 11}}}},
     {"mark": {"type": "line", "strokeWidth": 2.6},
      "encoding": {
        "x": {"field": "date", "type": "temporal", "scale": {"domain": [{"year": 2016, "month": 6, "date": 1}, {"year": 2021, "month": 6, "date": 10}], "range": [59, 446.6]}},
        "y": {"field": "settle", "type": "quantitative", "scale": {"domain": [0, 25000], "range": [227.7, 40.7], "nice": false},
          "axis": {"orient": "right", "offset": -55.4, "values": [0, 5000, 10000, 15000, 20000, 25000], "format": ",d", "labelOverlap": false, "domain": false, "ticks": false, "tickSize": 0, "labelPadding": 11, "labelColor": "#404040", "title": null}},
        "stroke": {"datum": "期货结算价  右轴", "type": "nominal", "scale": {"range": ["#ed7d31"]},
          "legend": {"orient": "none", "legendX": 328.5, "legendY": 16.8, "title": null, "symbolType": "M-2.8,0H2.8", "symbolSize": 100, "symbolStrokeWidth": 3, "labelOffset": 10.5}}}}
   ],
   "resolve": {"scale": {"y": "independent"}, "axis": {"y": "independent"}}},
  {"width": 10, "height": 21, "data": {"values": []}, "mark": "text"},
  {"width": 557, "height": 51, "view": {"stroke": "#595959", "strokeWidth": 2, "strokeDash": [557, 51]},
   "data": {"values": [{"fig": "图 21. 沪铝连三与 LME 铝比价（剔除汇率）"}]},
   "mark": {"type": "text", "align": "left", "baseline": "middle", "dx": 12, "dy": -34, "fontSize": 21, "fontWeight": "bold", "color": "#c00000"},
   "encoding": {"text": {"field": "fig", "type": "nominal"}, "x": {"datum": 0, "type": "quantitative", "scale": {"domain": [0, 1]}, "axis": null}, "y": {"datum": 0, "type": "quantitative", "scale": {"domain": [0, 1]}, "axis": null}}},
  {"width": 10, "height": 11, "data": {"values": []}, "mark": "text"},
  {"width": 505, "height": 290, "view": {"stroke": "#404040", "strokeWidth": 1.3},
   "data": {"name": "ratio"},
   "mark": {"type": "line", "strokeWidth": 2.6},
   "encoding": {
     "x": {"field": "date", "type": "temporal", "scale": {"domain": [{"year": 2020, "month": 11, "date": 1}, {"year": 2021, "month": 6, "date": 18}], "range": [61.7, 484]},
       "axis": {"orient": "bottom", "offset": -69, "values": [{"year": 2020, "month": 11, "date": 1}, {"year": 2020, "month": 12, "date": 1}, {"year": 2021, "month": 1, "date": 1}, {"year": 2021, "month": 2, "date": 1}, {"year": 2021, "month": 3, "date": 1}, {"year": 2021, "month": 4, "date": 1}, {"year": 2021, "month": 5, "date": 1}, {"year": 2021, "month": 6, "date": 1}], "format": "%Y-%m-%d", "labelAngle": -45, "labelFlush": false, "labelOverlap": false, "tickSize": 5, "labelPadding": 8, "title": null}},
     "y": {"field": "ratio", "type": "quantitative", "scale": {"domain": [1.12, 1.24], "range": [221, 57.3], "nice": false, "zero": false},
       "axis": {"orient": "left", "offset": -61.7, "values": [1.12, 1.14, 1.16, 1.18, 1.2, 1.22, 1.24], "format": "~g", "labelOverlap": false, "domain": false, "ticks": false, "tickSize": 0, "labelPadding": 12, "labelColor": "#404040", "title": null}},
     "stroke": {"datum": "期货收盘价（连三）/(LME3个月铝期货收盘价*美元兑人民币即期汇率）", "type": "nominal", "scale": {"range": ["#4472c4"]},
       "legend": {"orient": "none", "legendX": 57.5, "legendY": 17.5, "title": null, "symbolType": "M-2.8,0H2.8", "symbolSize": 100, "symbolStrokeWidth": 3, "labelOffset": 10.5}}
   }},
  {"width": 10, "height": 28, "data": {"values": []}, "mark": "text"},
  {"width": 557, "height": 234, "view": {"stroke": "#595959", "strokeWidth": 2, "strokeDash": [557, 10000]}, "data": {"values": []}, "mark": "text"}
], "spacing": 0, "bounds": "flush", "center": true,
 "resolve": {"scale": {"color": "independent", "fill": "independent", "stroke": "independent"}, "legend": {"color": "independent", "fill": "independent", "stroke": "independent"}}},
{"vconcat": [
  {"width": 571, "height": 63.5, "view": {"stroke": "#595959", "strokeWidth": 2, "strokeDash": [0, 634.5, 571, 63.5]},
   "data": {"values": [{"fig": "图 18. LME 铝升贴水"}]},
   "mark": {"type": "text", "align": "left", "baseline": "middle", "dx": 12, "dy": -34, "fontSize": 21, "fontWeight": "bold", "color": "#c00000"},
   "encoding": {"text": {"field": "fig", "type": "nominal"}, "x": {"datum": 0, "type": "quantitative", "scale": {"domain": [0, 1]}, "axis": null}, "y": {"datum": 0, "type": "quantitative", "scale": {"domain": [0, 1]}, "axis": null}}},
  {"width": 10, "height": 13, "data": {"values": []}, "mark": "text"},
  {"width": 517, "height": 288, "view": {"stroke": "#404040", "strokeWidth": 1.3},
   "data": {"name": "lme"},
   "layer": [
     {"mark": {"type": "bar", "size": 3.4},
      "encoding": {
        "x": {"field": "date", "type": "temporal", "scale": {"domain": [{"year": 2016, "month": 6, "date": 1}, {"year": 2021, "month": 6, "date": 10}], "range": [59, 471]},
          "axis": {"orient": "bottom", "offset": -68.3, "values": [{"year": 2016, "month": 6, "date": 1}, {"year": 2017, "month": 6, "date": 1}, {"year": 2018, "month": 6, "date": 1}, {"year": 2019, "month": 6, "date": 1}, {"year": 2020, "month": 6, "date": 1}, {"year": 2021, "month": 6, "date": 1}], "format": "%Y-%m-%d", "labelAngle": -45, "labelFlush": false, "labelOverlap": false, "tickSize": 4, "labelPadding": 6, "title": null}},
        "y": {"field": "spread", "type": "quantitative", "scale": {"domain": [-60, 60], "range": [219.7, 42.3], "nice": false, "zero": false},
          "axis": {"orient": "right", "offset": -46, "values": [-60, -40, -20, 0, 20, 40, 60], "labelExpr": "datum.value < 0 ? '(' + format(-datum.value, ',') + ')' : format(datum.value, ',')", "labelColor": {"condition": {"test": "datum.value < 0", "value": "#ff0000"}, "value": "#404040"}, "labelOverlap": false, "domain": false, "ticks": false, "tickSize": 0, "labelPadding": 14, "title": null}},
        "fill": {"datum": "LME3个月铝升贴水  右轴", "type": "nominal", "scale": {"range": ["#ffc000"]},
          "legend": {"orient": "none", "legendX": 131, "legendY": 16.8, "title": null, "symbolType": "M-2.8,-0.7H2.8V0.7H-2.8Z", "symbolSize": 100, "symbolStrokeWidth": 0, "labelOffset": 11}}}},
     {"mark": {"type": "line", "strokeWidth": 2.6},
      "encoding": {
        "x": {"field": "date", "type": "temporal", "scale": {"domain": [{"year": 2016, "month": 6, "date": 1}, {"year": 2021, "month": 6, "date": 10}], "range": [59, 471]}},
        "y": {"field": "price", "type": "quantitative", "scale": {"domain": [500, 3000], "range": [219.7, 42.3], "nice": false, "zero": false},
          "axis": {"orient": "left", "offset": -59, "values": [500, 1000, 1500, 2000, 2500, 3000], "format": ",d", "labelOverlap": false, "domain": false, "ticks": false, "tickSize": 0, "labelPadding": 15, "labelColor": "#404040", "title": null}},
        "stroke": {"datum": "期货收盘价", "type": "nominal", "scale": {"range": ["#a5a5a5"]},
          "legend": {"orient": "none", "legendX": 316, "legendY": 16.5, "title": null, "symbolType": "M-2.8,0H2.8", "symbolSize": 100, "symbolStrokeWidth": 3, "labelOffset": 10.5}}}}
   ],
   "resolve": {"scale": {"y": "independent"}, "axis": {"y": "independent"}}},
  {"width": 10, "height": 28, "data": {"values": []}, "mark": "text"},
  {"width": 571, "height": 51, "view": {"stroke": "#595959", "strokeWidth": 2, "strokeDash": [571, 51]},
   "data": {"values": [{"fig": "图 20. 氧化铝价格（元/吨）"}]},
   "mark": {"type": "text", "align": "left", "baseline": "middle", "dx": 12, "dy": -34, "fontSize": 21, "fontWeight": "bold", "color": "#c00000"},
   "encoding": {"text": {"field": "fig", "type": "nominal"}, "x": {"datum": 0, "type": "quantitative", "scale": {"domain": [0, 1]}, "axis": null}, "y": {"datum": 0, "type": "quantitative", "scale": {"domain": [0, 1]}, "axis": null}}},
  {"width": 10, "height": 6, "data": {"values": []}, "mark": "text"},
  {"width": 503, "height": 302, "view": {"stroke": "#404040", "strokeWidth": 1.3},
   "data": {"name": "alumina"},
   "layer": [
     {"mark": {"type": "line", "strokeWidth": 2.6},
      "encoding": {
        "x": {"field": "date", "type": "temporal", "scale": {"domain": [{"year": 2016, "month": 6, "date": 1}, {"year": 2021, "month": 6, "date": 10}], "range": [66.3, 477.3]},
          "axis": {"orient": "bottom", "offset": -68.7, "values": [{"year": 2016, "month": 6, "date": 1}, {"year": 2016, "month": 12, "date": 1}, {"year": 2017, "month": 6, "date": 1}, {"year": 2017, "month": 12, "date": 1}, {"year": 2018, "month": 6, "date": 1}, {"year": 2018, "month": 12, "date": 1}, {"year": 2019, "month": 6, "date": 1}, {"year": 2019, "month": 12, "date": 1}, {"year": 2020, "month": 6, "date": 1}, {"year": 2020, "month": 12, "date": 1}, {"year": 2021, "month": 6, "date": 1}], "format": "%Y-%m-%d", "labelAngle": -45, "labelFlush": false, "labelOverlap": false, "tickSize": 5, "labelPadding": 7, "title": null}},
        "y": {"field": "lyg", "type": "quantitative", "scale": {"domain": [1500, 4000], "range": [233.3, 58.3], "nice": false, "zero": false},
          "axis": {"orient": "left", "offset": -66.3, "values": [1500, 2000, 2500, 3000, 3500, 4000], "format": ",d", "labelOverlap": false, "domain": false, "ticks": false, "tickSize": 0, "labelPadding": 16, "labelColor": "#404040", "title": null}},
        "stroke": {"datum": "氧化铝价格（连云港）", "type": "nominal",
          "scale": {"domain": ["氧化铝价格（连云港）", "氧化铝价格（山东）", "氧化铝价格（广西百色）"], "range": ["#5b9bd5", "#7030a0", "#ffc000"]},
          "legend": {"orient": "none", "legendX": 198, "legendY": 11.8, "direction": "vertical", "title": null, "symbolType": "M-2.8,0H2.8", "symbolSize": 100, "symbolStrokeWidth": 3, "labelOffset": 10.5, "labelFontSize": 11.5, "rowPadding": 1}}}},
     {"mark": {"type": "line", "strokeWidth": 2.6},
      "encoding": {
        "x": {"field": "date", "type": "temporal"},
        "y": {"field": "sd", "type": "quantitative"},
        "stroke": {"datum": "氧化铝价格（山东）", "type": "nominal"}}},
     {"mark": {"type": "line", "strokeWidth": 2.6},
      "encoding": {
        "x": {"field": "date", "type": "temporal"},
        "y": {"field": "gx", "type": "quantitative"},
        "stroke": {"datum": "氧化铝价格（广西百色）", "type": "nominal"}}}
   ]},
  {"width": 10, "height": 21, "data": {"values": []}, "mark": "text"},
  {"width": 571, "height": 51, "view": {"stroke": "#595959", "strokeWidth": 2, "strokeDash": [571, 51]},
   "data": {"values": [{"fig": "图 22. 进口盈亏:铝（元/吨）"}]},
   "mark": {"type": "text", "align": "left", "baseline": "middle", "dx": 12, "dy": -34, "fontSize": 21, "fontWeight": "bold", "color": "#c00000"},
   "encoding": {"text": {"field": "fig", "type": "nominal"}, "x": {"datum": 0, "type": "quantitative", "scale": {"domain": [0, 1]}, "axis": null}, "y": {"datum": 0, "type": "quantitative", "scale": {"domain": [0, 1]}, "axis": null}}},
  {"width": 10, "height": 9, "data": {"values": []}, "mark": "text"},
  {"width": 489, "height": 295, "view": {"stroke": "#404040", "strokeWidth": 1.3},
   "data": {"name": "imp"},
   "layer": [
     {"mark": {"type": "bar", "size": 1.3, "opacity": 0.9},
      "encoding": {
        "x": {"field": "date", "type": "temporal", "scale": {"domain": [{"year": 2020, "month": 9, "date": 30}, {"year": 2021, "month": 6, "date": 17}], "range": [62, 471]},
          "axis": {"orient": "bottom", "offset": -68.3, "values": [{"year": 2020, "month": 10, "date": 1}, {"year": 2020, "month": 11, "date": 1}, {"year": 2020, "month": 12, "date": 1}, {"year": 2021, "month": 1, "date": 1}, {"year": 2021, "month": 2, "date": 1}, {"year": 2021, "month": 3, "date": 1}, {"year": 2021, "month": 4, "date": 1}, {"year": 2021, "month": 5, "date": 1}, {"year": 2021, "month": 6, "date": 1}], "format": "%Y-%m-%d", "labelAngle": -45, "labelFlush": false, "labelOverlap": false, "domain": false, "ticks": false, "tickSize": 0, "labelPadding": 12, "title": null}},
        "y": {"field": "pnl", "type": "quantitative", "scale": {"domain": [-1000, 1000], "range": [226.7, 44.3], "nice": false, "zero": false},
          "axis": {"orient": "left", "offset": -62, "values": [-1000, -800, -600, -400, -200, 0, 200, 400, 600, 800, 1000], "labelExpr": "datum.value < 0 ? '(' + format(-datum.value, ',') + ')' : format(datum.value, ',')", "labelColor": {"condition": {"test": "datum.value < 0", "value": "#ff0000"}, "value": "#404040"}, "labelOverlap": false, "domain": false, "ticks": false, "tickSize": 0, "labelPadding": 13, "title": null}},
        "fill": {"datum": "铝进口盈亏", "type": "nominal", "scale": {"range": ["#70ad47"]},
          "legend": {"orient": "none", "legendX": 205, "legendY": 21, "title": null, "symbolType": "square", "symbolSize": 25, "symbolStrokeWidth": 0, "labelOffset": 0, "labelFontSize": 12}}}},
     {"mark": {"type": "rule", "color": "#d9d9d9", "strokeWidth": 1},
      "encoding": {
        "x": {"datum": {"year": 2020, "month": 9, "date": 30}, "type": "temporal", "scale": {"domain": [{"year": 2020, "month": 9, "date": 30}, {"year": 2021, "month": 6, "date": 17}], "range": [62, 471]},
          "axis": {"orient": "bottom", "offset": -68.3, "values": [{"year": 2020, "month": 10, "date": 1}, {"year": 2020, "month": 11, "date": 1}, {"year": 2020, "month": 12, "date": 1}, {"year": 2021, "month": 1, "date": 1}, {"year": 2021, "month": 2, "date": 1}, {"year": 2021, "month": 3, "date": 1}, {"year": 2021, "month": 4, "date": 1}, {"year": 2021, "month": 5, "date": 1}, {"year": 2021, "month": 6, "date": 1}], "format": "%Y-%m-%d", "labelAngle": -45, "labelFlush": false, "labelOverlap": false, "domain": false, "ticks": false, "tickSize": 0, "labelPadding": 12, "title": null}},
        "x2": {"datum": {"year": 2021, "month": 6, "date": 17}},
        "y": {"datum": 0, "type": "quantitative", "scale": {"domain": [-1000, 1000], "range": [226.7, 44.3], "nice": false, "zero": false},
          "axis": {"orient": "left", "offset": -62, "values": [-1000, -800, -600, -400, -200, 0, 200, 400, 600, 800, 1000], "labelExpr": "datum.value < 0 ? '(' + format(-datum.value, ',') + ')' : format(datum.value, ',')", "labelColor": {"condition": {"test": "datum.value < 0", "value": "#ff0000"}, "value": "#404040"}, "labelOverlap": false, "domain": false, "ticks": false, "tickSize": 0, "labelPadding": 13, "title": null}}}}
   ]},
  {"width": 10, "height": 25, "data": {"values": []}, "mark": "text"},
  {"width": 571, "height": 234, "view": {"stroke": "#595959", "strokeWidth": 2, "strokeDash": [571, 10000]},
   "data": {"values": [{"src": "数据来源：Wind，信达期货研发中心"}]},
   "mark": {"type": "text", "align": "right", "baseline": "middle", "dx": -34, "dy": -30, "fontSize": 17, "color": "#000000"},
   "encoding": {"text": {"field": "src", "type": "nominal"}, "x": {"datum": 1, "type": "quantitative", "scale": {"domain": [0, 1]}, "axis": null}, "y": {"datum": 0, "type": "quantitative", "scale": {"domain": [0, 1]}, "axis": null}}}
], "spacing": 0, "bounds": "flush", "center": true,
 "resolve": {"scale": {"color": "independent", "fill": "independent", "stroke": "independent"}, "legend": {"color": "independent", "fill": "independent", "stroke": "independent"}}}
], "spacing": 34,
 "resolve": {"scale": {"color": "independent", "fill": "independent", "stroke": "independent"}, "legend": {"color": "independent", "fill": "independent", "stroke": "independent"}}}
]
}
